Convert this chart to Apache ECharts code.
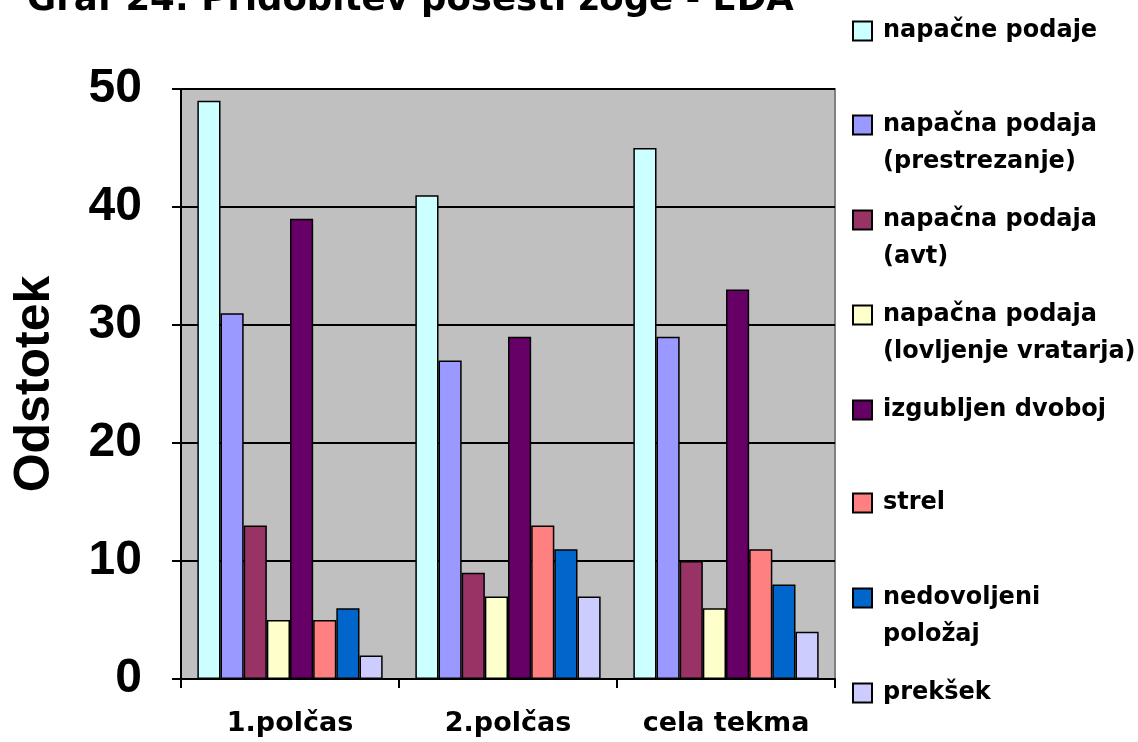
<!DOCTYPE html>
<html><head><meta charset="utf-8">
<script src="https://cdn.jsdelivr.net/npm/echarts@6/dist/echarts.min.js"></script>
<style>html,body{margin:0;padding:0;background:#fff}#c{width:1138px;height:742px}</style>
</head><body><div id="c"></div>
<script>
const categories = ['1.polčas', '2.polčas', 'cela tekma'];
const seriesNames = ['napačne podaje', 'napačna podaja\n(prestrezanje)', 'napačna podaja\n(avt)', 'napačna podaja\n(lovljenje vratarja)', 'izgubljen dvoboj', 'strel', 'nedovoljeni\npoložaj', 'prekšek'];
const napacnePodaje = [49, 41, 45];
const prestrezanje = [31, 27, 29];
const avt = [13, 9, 10];
const lovljenjeVratarja = [5, 7, 6];
const izgubljenDvoboj = [39, 29, 33];
const strel = [5, 13, 11];
const nedovoljeniPolozaj = [6, 11, 8];
const preksek = [2, 7, 4];
const yTicks = [0, 10, 20, 30, 40, 50];
const colors = ['#CCFFFF', '#9999FF', '#993366', '#FFFFCC', '#660066', '#FF8080', '#0066CC', '#CCCCFF'];
const values = [napacnePodaje, prestrezanje, avt, lovljenjeVratarja, izgubljenDvoboj, strel, nedovoljeniPolozaj, preksek];
const legendCenters = [31, 125, 220, 315, 410, 503, 598, 693];

const FF = '"Liberation Sans", Arial, sans-serif';
const FW = '"DejaVu Sans", sans-serif';
const LH = 37;
const chart = echarts.init(document.getElementById('c'));
chart.setOption({
  animation: false,
  title: {
    text: 'Graf 24: Pridobitev posesti žoge - EDA',
    left: 27, top: -17, padding: 0,
    textStyle: { fontFamily: FW, fontWeight: 'bold', fontSize: 35.5, color: '#000' }
  },
  legend: seriesNames.map((n, i) => {
    const multi = n.indexOf('\n') >= 0;
    return {
      data: [n],
      left: 852, top: multi ? legendCenters[i] - LH * 1.5 : legendCenters[i] - LH / 2, padding: 0,
      orient: 'vertical',
      itemWidth: 19, itemHeight: 19, itemGap: 0,
      icon: 'rect',
      formatter: name => multi ? '\n' + name : name,
      itemStyle: { borderColor: '#000', borderWidth: 2 },
      textStyle: { fontFamily: FW, fontWeight: 'bold', fontSize: 24, color: '#000', lineHeight: LH,
        padding: [0, 0, 0, 6] }
    };
  }),
  grid: {
    left: 181, right: 303, top: 89, bottom: 63,
    show: true, backgroundColor: '#C0C0C0', borderColor: '#808080', borderWidth: 2
  },
  xAxis: {
    type: 'category', data: categories,
    axisLine: { lineStyle: { color: '#000', width: 2 } },
    axisTick: { show: true, length: 9, lineStyle: { color: '#000', width: 2 } },
    axisLabel: { margin: 31, fontFamily: FW, fontWeight: 'bold', fontSize: 27, color: '#000' }
  },
  yAxis: {
    type: 'value', min: 0, max: 50, interval: 10,
    name: 'Odstotek', nameLocation: 'middle', nameGap: 121,
    nameTextStyle: { fontFamily: FF, fontWeight: 'bold', fontSize: 50, color: '#000' },
    axisLine: { show: true, lineStyle: { color: '#000', width: 2 } },
    axisTick: { show: true, length: 9, lineStyle: { color: '#000', width: 2 } },
    axisLabel: { margin: 39, fontFamily: FF, fontWeight: 'bold', fontSize: 48, color: '#000',
      formatter: v => yTicks.includes(v) ? String(v) : '' },
    splitLine: { lineStyle: { color: '#000', width: 2 } }
  },
  series: seriesNames.map((n, i) => ({
    name: n, type: 'bar', data: values[i],
    barGap: '0%', barCategoryGap: '15%',
    itemStyle: { color: colors[i], borderColor: '#000', borderWidth: 1.5 }
  }))
});
</script></body></html>
